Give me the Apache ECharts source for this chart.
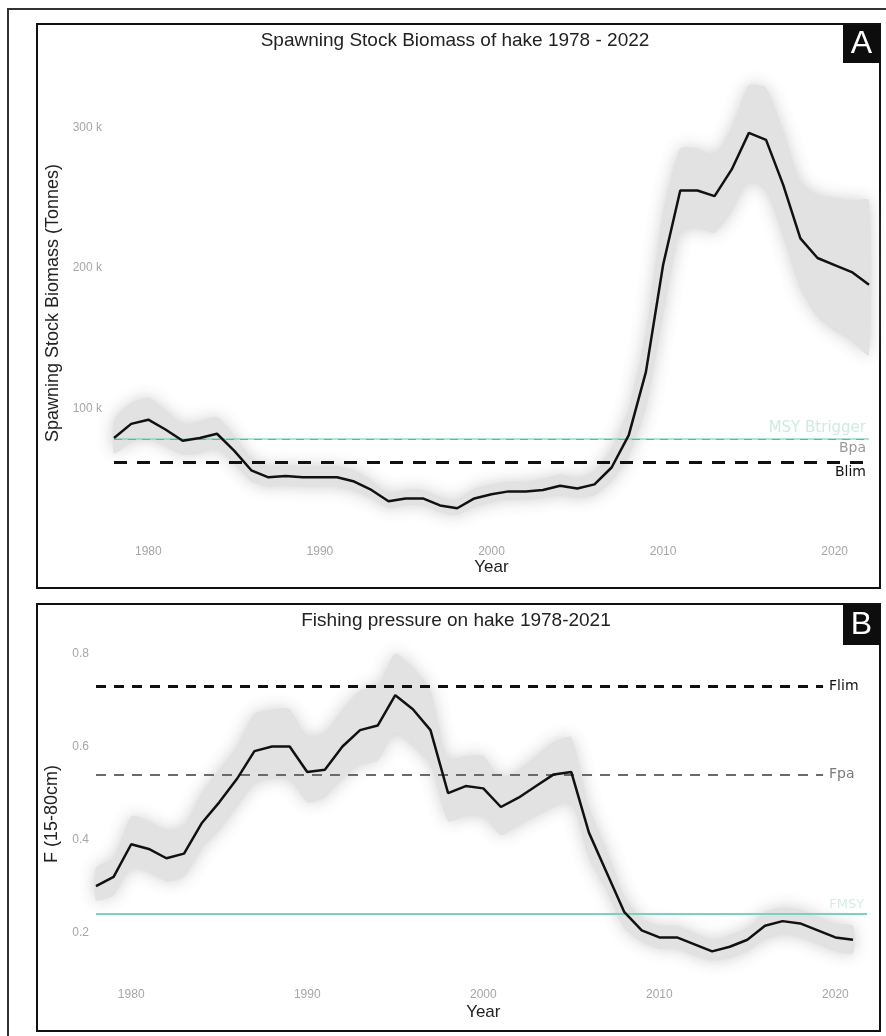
<!DOCTYPE html>
<html>
<head>
<meta charset="utf-8">
<script src="https://cdn.jsdelivr.net/npm/echarts@6/dist/echarts.min.js"></script>
<style>
  html, body { margin: 0; padding: 0; background: #ffffff; }
  #chart { width: 886px; height: 1036px; }
</style>
</head>
<body>
<div id="chart"></div>
<script>
// ---- Spawning stock biomass (tonnes), 1978-2022 ----
const ssbYears = [1978, 1979, 1980, 1981, 1982, 1983, 1984, 1985, 1986, 1987,
                  1988, 1989, 1990, 1991, 1992, 1993, 1994, 1995, 1996, 1997,
                  1998, 1999, 2000, 2001, 2002, 2003, 2004, 2005, 2006, 2007,
                  2008, 2009, 2010, 2011, 2012, 2013, 2014, 2015, 2016, 2017,
                  2018, 2019, 2020, 2021, 2022];
const ssb = [79000, 89000, 92000, 85000, 77000, 79000, 82000, 70000, 56000, 51000,
             52000, 51000, 51000, 51000, 48000, 42000, 34000, 36000, 36000, 31000,
             29000, 36000, 39000, 41000, 41000, 42000, 45000, 43000, 46000, 58000,
             81000, 126000, 202000, 255000, 255000, 251000, 270000, 296000, 291000, 259000,
             221000, 207000, 202000, 197000, 188000];
const ssbLow = [68000, 76000, 78000, 73000, 67000, 68000, 71000, 61000, 48000, 44000,
                45000, 44000, 44000, 44000, 41000, 36000, 29000, 31000, 31000, 26000,
                24000, 30000, 33000, 35000, 35000, 36000, 38000, 36000, 38000, 48000,
                66000, 100000, 165000, 225000, 228000, 225000, 240000, 262000, 255000, 222000,
                185000, 165000, 155000, 148000, 138000];
const ssbHigh = [92000, 104000, 108000, 99000, 89000, 91000, 94000, 81000, 65000, 59000,
                 60000, 59000, 59000, 59000, 56000, 49000, 40000, 42000, 42000, 37000,
                 35000, 43000, 46000, 48000, 48000, 50000, 53000, 51000, 55000, 72000,
                 100000, 155000, 240000, 285000, 285000, 280000, 300000, 330000, 328000, 298000,
                 262000, 252000, 250000, 248000, 248000];

// ---- Fishing mortality F (15-80cm), 1978-2021 ----
const fYears = [1978, 1979, 1980, 1981, 1982, 1983, 1984, 1985, 1986, 1987,
                1988, 1989, 1990, 1991, 1992, 1993, 1994, 1995, 1996, 1997,
                1998, 1999, 2000, 2001, 2002, 2003, 2004, 2005, 2006, 2007,
                2008, 2009, 2010, 2011, 2012, 2013, 2014, 2015, 2016, 2017,
                2018, 2019, 2020, 2021];
const fishingF = [0.30, 0.32, 0.39, 0.38, 0.36, 0.37, 0.435, 0.48, 0.53, 0.59,
                  0.60, 0.60, 0.545, 0.55, 0.60, 0.635, 0.645, 0.71, 0.68, 0.635,
                  0.50, 0.515, 0.51, 0.47, 0.49, 0.515, 0.54, 0.545, 0.415, 0.33,
                  0.245, 0.205, 0.19, 0.19, 0.175, 0.16, 0.17, 0.185, 0.215, 0.225,
                  0.22, 0.205, 0.19, 0.185];
const fLow = [0.27, 0.28, 0.34, 0.33, 0.31, 0.32, 0.38, 0.42, 0.47, 0.52,
              0.53, 0.53, 0.48, 0.49, 0.53, 0.56, 0.57, 0.63, 0.60, 0.56,
              0.44, 0.45, 0.45, 0.41, 0.43, 0.45, 0.47, 0.48, 0.36, 0.29,
              0.21, 0.18, 0.165, 0.165, 0.15, 0.14, 0.145, 0.16, 0.185, 0.195,
              0.19, 0.175, 0.16, 0.155];
const fHigh = [0.34, 0.36, 0.45, 0.44, 0.42, 0.43, 0.50, 0.55, 0.60, 0.67,
               0.68, 0.68, 0.62, 0.63, 0.68, 0.72, 0.73, 0.80, 0.77, 0.72,
               0.57, 0.58, 0.58, 0.53, 0.55, 0.58, 0.61, 0.62, 0.47, 0.38,
               0.28, 0.23, 0.215, 0.215, 0.20, 0.185, 0.195, 0.21, 0.245, 0.255,
               0.25, 0.235, 0.22, 0.215];

// ---- Reference points ----
const MSY_BTRIGGER = 78398;
const BPA = 78398;
const BLIM = 61563;
const FLIM = 0.73;
const FPA = 0.54;
const FMSY = 0.24;

// ---- Tick labels ----
const yearTicks = [1980, 1990, 2000, 2010, 2020];
const ssbTicks = [100000, 200000, 300000];
const fTicks = [0.2, 0.4, 0.6, 0.8];

const FONT = '"Liberation Sans", Arial, sans-serif';
const LABEL_FONT = '"DejaVu Sans", sans-serif';
const TEAL = '#79d3bc';
const TICK_GREY = '#a6a6a6';

// Confidence band drawn as one polygon through the axis scales
function ribbon(xs, lo, hi, idx) {
  return {
    type: 'custom',
    xAxisIndex: idx,
    yAxisIndex: idx,
    silent: true,
    z: 1,
    data: xs.map((x, i) => [x, lo[i], hi[i]]),
    encode: { x: 0, y: [1, 2] },
    renderItem: function (params, api) {
      if (params.dataIndex !== 0) return null;
      const top = xs.map((x, i) => api.coord([x, hi[i]]));
      const bottom = xs.map((x, i) => api.coord([x, lo[i]])).reverse();
      return {
        type: 'polygon',
        shape: { points: top.concat(bottom), smooth: 0.2 },
        style: { fill: '#e2e2e2', shadowBlur: 16, shadowColor: 'rgba(205,205,205,0.95)' }
      };
    }
  };
}

function xAxisFor(idx, min, max, labelMargin, gap) {
  return {
    type: 'value', gridIndex: idx, min: min, max: max,
    name: 'Year', nameLocation: 'middle', nameGap: gap,
    nameTextStyle: { fontFamily: FONT, fontSize: 17, color: '#222' },
    axisLine: { show: false }, axisTick: { show: false }, splitLine: { show: false },
    axisLabel: { customValues: yearTicks, margin: labelMargin, fontFamily: FONT, fontSize: 12,
                 color: TICK_GREY, formatter: v => String(v) }
  };
}

const chart = echarts.init(document.getElementById('chart'), null, { renderer: 'canvas' });

chart.setOption({
  animation: false,
  backgroundColor: '#ffffff',
  grid: [
    { left: 114, right: 17, top: 64, height: 478 },
    { left: 96, right: 15.4, top: 644, height: 340 }
  ],
  xAxis: [
    xAxisFor(0, 1978, 2022, 4, 17),
    xAxisFor(1, 1978, 2022, 5, 20)
  ],
  yAxis: [
    {
      type: 'value', gridIndex: 0, min: 5000, max: 345000,
      name: 'Spawning Stock Biomass (Tonnes)', nameLocation: 'middle', nameRotate: 90, nameGap: 50,
      nameTextStyle: { fontFamily: FONT, fontSize: 18, color: '#222' },
      axisLine: { show: false }, axisTick: { show: false }, splitLine: { show: false },
      axisLabel: {
        customValues: ssbTicks, margin: 12, fontFamily: FONT, fontSize: 12, color: TICK_GREY,
        formatter: v => (v / 1000) + ' k'
      }
    },
    {
      type: 'value', gridIndex: 1, min: 0.09, max: 0.82,
      name: 'F (15-80cm)', nameLocation: 'middle', nameRotate: 90, nameGap: 32,
      nameTextStyle: { fontFamily: FONT, fontSize: 18, color: '#222' },
      axisLine: { show: false }, axisTick: { show: false }, splitLine: { show: false },
      axisLabel: {
        customValues: fTicks, margin: 7, fontFamily: FONT, fontSize: 12, color: TICK_GREY,
        formatter: v => v.toFixed(1)
      }
    }
  ],
  series: [
    ribbon(ssbYears, ssbLow, ssbHigh, 0),
    {
      type: 'line', xAxisIndex: 0, yAxisIndex: 0, z: 5,
      data: ssbYears.map((y, i) => [y, ssb[i]]),
      symbol: 'none', lineStyle: { color: '#111111', width: 2.5 },
      markLine: {
        silent: true, symbol: ['none', 'none'], z: 3,
        data: [
          { yAxis: MSY_BTRIGGER, lineStyle: { color: TEAL, type: 'solid', width: 1.5, opacity: 0.8 },
            label: { formatter: 'MSY Btrigger', position: 'insideEndTop', distance: 3,
                     fontFamily: LABEL_FONT, fontSize: 15, color: '#bfe6dc' } },
          { yAxis: BPA, lineStyle: { color: '#9a9a9a', type: [8, 6], width: 1 },
            label: { formatter: 'Bpa', position: 'insideEndBottom', distance: 3,
                     fontFamily: LABEL_FONT, fontSize: 14, color: '#9a9a9a' } },
          { yAxis: BLIM, lineStyle: { color: '#111111', type: [13, 10], width: 3 },
            label: { formatter: 'Blim', position: 'insideEndBottom', distance: 3,
                     fontFamily: LABEL_FONT, fontSize: 14, color: '#111111' } }
        ]
      }
    },
    ribbon(fYears, fLow, fHigh, 1),
    {
      type: 'line', xAxisIndex: 1, yAxisIndex: 1, z: 5,
      data: fYears.map((y, i) => [y, fishingF[i]]),
      symbol: 'none', lineStyle: { color: '#111111', width: 2.5 },
      markLine: {
        silent: true, symbol: ['none', 'none'], z: 3,
        data: [
          [
            { coord: [1978, FLIM], lineStyle: { color: '#111111', type: [10, 8], width: 3 },
              label: { formatter: 'Flim', position: 'end', distance: 6,
                       fontFamily: LABEL_FONT, fontSize: 14, color: '#111111' } },
            { coord: [2019.3, FLIM] }
          ],
          [
            { coord: [1978, FPA], lineStyle: { color: '#6a6a6a', type: [10, 8], width: 2 },
              label: { formatter: 'Fpa', position: 'end', distance: 6,
                       fontFamily: LABEL_FONT, fontSize: 14, color: '#7a7a7a' } },
            { coord: [2019.3, FPA] }
          ],
          [
            { coord: [1978, FMSY], lineStyle: { color: TEAL, type: 'solid', width: 2 },
              label: { formatter: 'FMSY', position: 'insideEndTop', distance: 3,
                       fontFamily: LABEL_FONT, fontSize: 13, color: '#d3ede6' } },
            { coord: [2021.8, FMSY] }
          ]
        ]
      }
    }
  ],
  graphic: [
    // outer frame
    { type: 'rect', shape: { x: 8, y: 9, width: 890, height: 1040 },
      style: { fill: 'none', stroke: '#333333', lineWidth: 2 }, silent: true },
    // panel frames
    { type: 'rect', shape: { x: 37, y: 24, width: 843, height: 564 },
      style: { fill: 'none', stroke: '#111111', lineWidth: 2 }, silent: true },
    { type: 'rect', shape: { x: 37, y: 604, width: 843, height: 427 },
      style: { fill: 'none', stroke: '#111111', lineWidth: 2 }, silent: true },
    // panel tags
    { type: 'rect', shape: { x: 843, y: 25, width: 37, height: 38 }, style: { fill: '#0d0d0d' }, silent: true },
    { type: 'text', x: 861.5, y: 44, style: { text: 'A', fill: '#ffffff', font: '32px ' + FONT,
      textAlign: 'center', textVerticalAlign: 'middle' }, silent: true },
    { type: 'rect', shape: { x: 843, y: 605, width: 37, height: 40 }, style: { fill: '#0d0d0d' }, silent: true },
    { type: 'text', x: 861.5, y: 625, style: { text: 'B', fill: '#ffffff', font: '32px ' + FONT,
      textAlign: 'center', textVerticalAlign: 'middle' }, silent: true },
    // panel titles
    { type: 'text', x: 455, y: 41, style: { text: 'Spawning Stock Biomass of hake 1978 - 2022', fill: '#222222',
      font: '19px ' + FONT, textAlign: 'center', textVerticalAlign: 'middle' }, silent: true },
    { type: 'text', x: 456, y: 621, style: { text: 'Fishing pressure on hake 1978-2021', fill: '#222222',
      font: '19px ' + FONT, textAlign: 'center', textVerticalAlign: 'middle' }, silent: true }
  ]
});
</script>
</body>
</html>
